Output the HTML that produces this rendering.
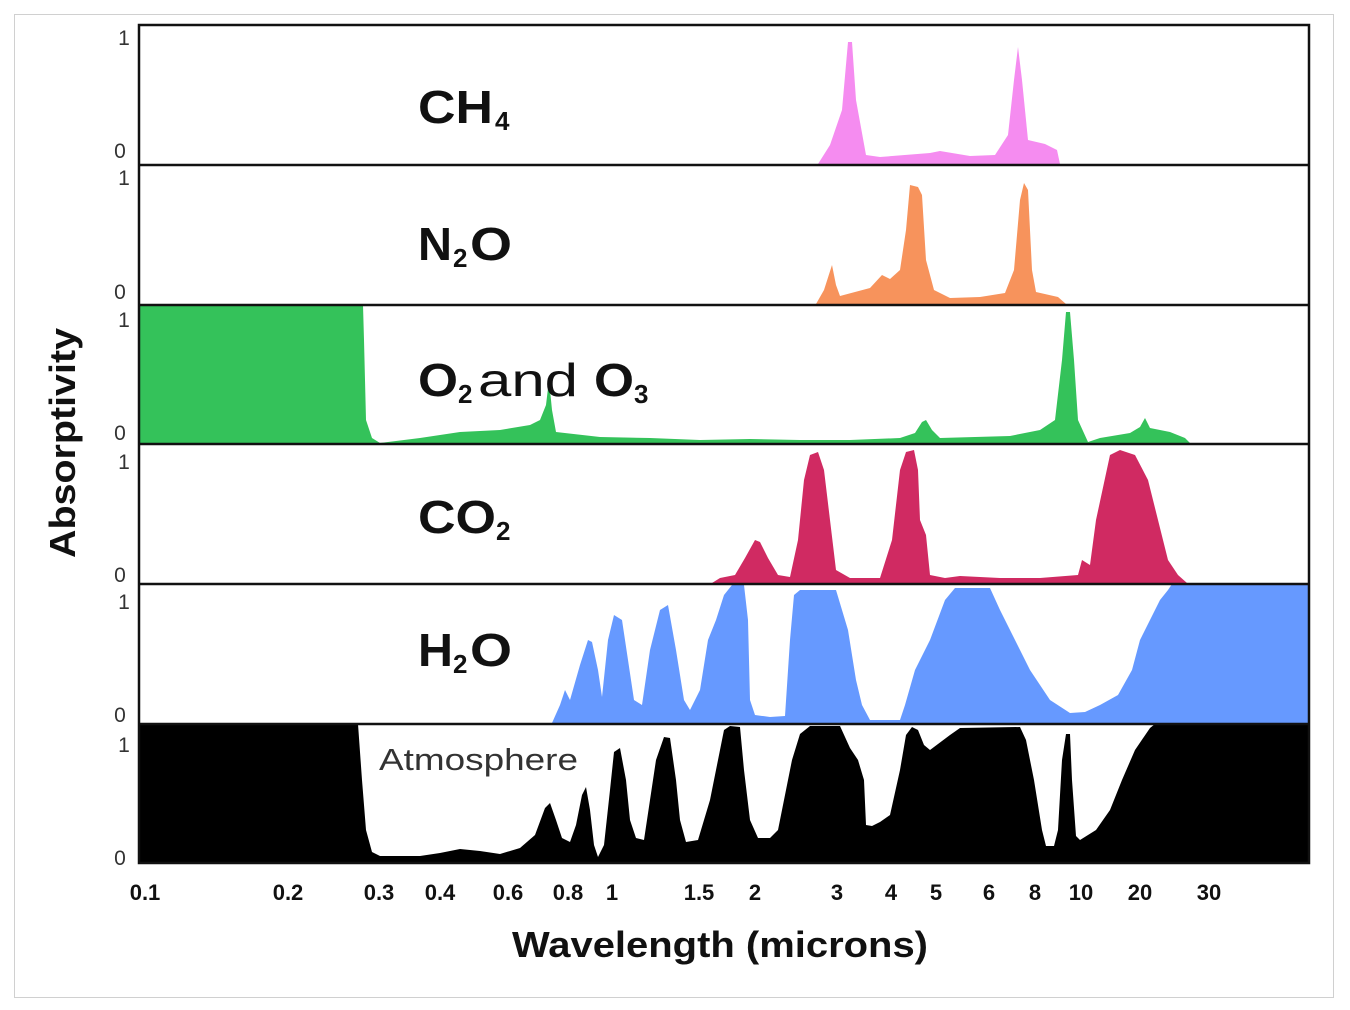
<!DOCTYPE html>
<html><head><meta charset="utf-8"><style>body{margin:0;background:#fff}svg{display:block}</style></head>
<body>
<svg width="1350" height="1010" viewBox="0 0 1350 1010" xmlns="http://www.w3.org/2000/svg" font-family="Liberation Sans, Arial, sans-serif">
<rect x="0" y="0" width="1350" height="1010" fill="#fff"/>
<rect x="14.5" y="14.5" width="1319" height="983" fill="none" stroke="#d0d0d0" stroke-width="1"/>
<polygon fill="#f58cf0" points="818,164 830,145 842,110 848,42 852,42 856,100 866,155 880,157 930,153 940,151 970,156 995,155 1008,135 1014,80 1018,47 1022,80 1028,140 1045,144 1057,150 1060,164"/>
<polygon fill="#f7935c" points="816,304 824,290 832,265 836,285 840,296 870,288 882,275 890,279 900,270 906,230 910,185 918,187 922,195 926,260 934,290 950,298 980,297 1005,293 1014,270 1020,200 1024,183 1028,190 1032,270 1036,292 1058,297 1066,304"/>
<polygon fill="#34c25a" points="140,305 363,305 364,340 366,420 372,438 380,443 420,438 460,432 500,430 530,425 540,420 546,405 549,380 552,410 556,432 600,437 650,438 700,440 750,439 800,440 850,440 900,438 915,433 922,422 926,420 932,430 940,438 1010,436 1040,430 1055,420 1062,360 1066,312 1070,312 1074,360 1078,420 1088,442 1100,438 1130,433 1140,427 1145,418 1150,428 1170,432 1185,438 1190,443 140,443"/>
<polygon fill="#d02a62" points="712,583 720,578 735,575 745,558 755,540 760,542 768,558 778,575 790,577 798,540 804,480 810,455 818,452 824,470 830,520 836,570 850,578 880,578 892,540 900,470 906,452 914,450 918,470 920,520 926,535 930,575 945,578 960,576 1000,578 1040,578 1078,575 1082,560 1090,565 1096,520 1110,455 1120,450 1135,455 1148,480 1158,520 1168,560 1178,575 1187,583"/>
<polygon fill="#6699ff" points="552,723 560,705 565,690 570,700 580,665 588,640 592,642 598,670 602,697 608,640 614,615 622,620 628,660 634,700 642,705 650,650 660,610 668,605 676,650 684,700 690,710 700,690 708,640 716,620 724,595 732,585 744,585 748,620 750,700 755,715 770,717 785,716 790,640 794,595 800,590 836,590 842,610 848,630 856,680 862,705 870,720 900,720 905,705 915,670 930,640 945,600 955,588 990,588 1000,610 1010,630 1030,670 1050,700 1070,713 1085,712 1100,705 1118,695 1132,670 1140,640 1150,620 1160,600 1168,590 1172,584 1309,584 1309,723"/>
<rect x="140" y="724" width="1169" height="138" fill="#000"/>
<polygon fill="#fff" points="358,724 362,780 366,830 372,852 380,856 420,856 440,853 460,849 480,851 500,854 520,848 535,835 545,808 550,803 556,820 562,838 570,842 576,825 582,795 586,787 590,810 594,845 598,857 604,845 610,790 614,752 620,748 626,780 630,820 636,838 644,840 650,800 656,760 664,737 670,738 676,780 680,820 686,842 698,840 710,800 718,760 724,730 730,726 740,727 744,770 750,820 758,838 770,838 778,830 786,790 792,760 800,734 810,726 840,726 850,748 858,760 864,780 866,825 872,826 880,822 890,815 900,770 906,735 912,727 918,730 924,745 930,750 938,744 950,735 960,728 1020,727 1026,740 1034,780 1042,830 1046,846 1054,846 1058,830 1062,760 1066,734 1070,734 1072,780 1076,836 1080,840 1096,830 1110,810 1122,780 1135,750 1150,728 1155,724"/>
<text x="379" y="770" font-size="31" fill="#333" textLength="199" lengthAdjust="spacingAndGlyphs">Atmosphere</text>
<g stroke="#111" stroke-width="2.5" fill="none">
<rect x="139" y="25" width="1170" height="838"/>
<line x1="139" y1="165" x2="1309" y2="165"/>
<line x1="139" y1="305" x2="1309" y2="305"/>
<line x1="139" y1="444" x2="1309" y2="444"/>
<line x1="139" y1="584" x2="1309" y2="584"/>
<line x1="139" y1="724" x2="1309" y2="724"/>
</g>
<g font-weight="bold" font-size="46" fill="#111">
<text x="418" y="123" textLength="75" lengthAdjust="spacingAndGlyphs">CH</text><text x="495" y="130" font-size="26">4</text>
<text x="418" y="260" textLength="34" lengthAdjust="spacingAndGlyphs">N</text><text x="453" y="267" font-size="26">2</text><text x="470" y="260" textLength="42" lengthAdjust="spacingAndGlyphs">O</text>
<text x="418" y="396" textLength="40" lengthAdjust="spacingAndGlyphs">O</text><text x="458" y="403" font-size="26">2</text><text x="478" y="396" font-weight="normal" textLength="100" lengthAdjust="spacingAndGlyphs">and</text><text x="594" y="396" textLength="40" lengthAdjust="spacingAndGlyphs">O</text><text x="634" y="403" font-size="26">3</text>
<text x="418" y="533" textLength="78" lengthAdjust="spacingAndGlyphs">CO</text><text x="496" y="540" font-size="26">2</text>
<text x="418" y="666" textLength="35" lengthAdjust="spacingAndGlyphs">H</text><text x="453" y="673" font-size="26">2</text><text x="470" y="666" textLength="42" lengthAdjust="spacingAndGlyphs">O</text>
</g>
<g font-size="21" fill="#333" text-anchor="middle">
<text x="124" y="45">1</text><text x="120" y="158">0</text>
<text x="124" y="185">1</text><text x="120" y="299">0</text>
<text x="124" y="327">1</text><text x="120" y="440">0</text>
<text x="124" y="469">1</text><text x="120" y="582">0</text>
<text x="124" y="609">1</text><text x="120" y="722">0</text>
<text x="124" y="752">1</text><text x="120" y="865">0</text>
</g>
<text transform="translate(75,443) rotate(-90)" text-anchor="middle" font-size="36" font-weight="bold" fill="#111" textLength="230" lengthAdjust="spacingAndGlyphs">Absorptivity</text>
<g font-size="22" font-weight="bold" fill="#111" text-anchor="middle">
<text x="145" y="900">0.1</text><text x="288" y="900">0.2</text><text x="379" y="900">0.3</text>
<text x="440" y="900">0.4</text><text x="508" y="900">0.6</text><text x="568" y="900">0.8</text>
<text x="612" y="900">1</text><text x="699" y="900">1.5</text><text x="755" y="900">2</text>
<text x="837" y="900">3</text><text x="891" y="900">4</text><text x="936" y="900">5</text>
<text x="989" y="900">6</text><text x="1035" y="900">8</text><text x="1081" y="900">10</text>
<text x="1140" y="900">20</text><text x="1209" y="900">30</text>
</g>
<text x="512" y="957" font-size="36" font-weight="bold" fill="#111" textLength="416" lengthAdjust="spacingAndGlyphs">Wavelength (microns)</text>
</svg>
</body></html>
